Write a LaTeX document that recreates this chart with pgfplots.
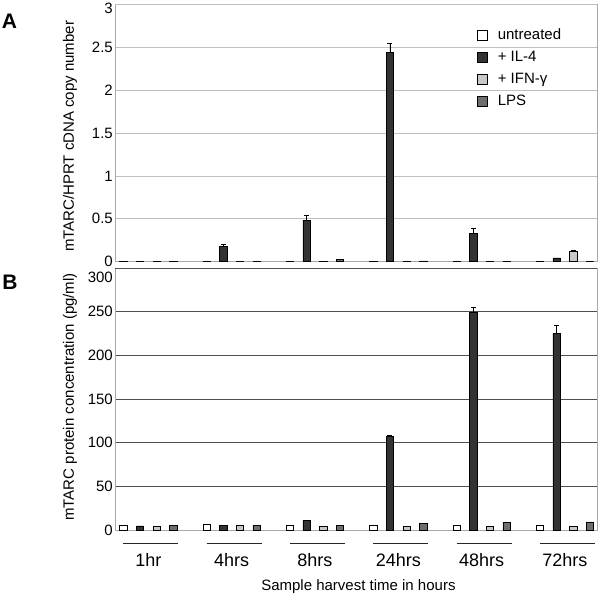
\documentclass[border=0pt]{standalone}
\usepackage{fontspec}
\setmainfont{Liberation Sans}
\usepackage{pgfplots}
\pgfplotsset{compat=1.18}
\usepackage{pgfplotstable}

\definecolor{cUn}{HTML}{FFFFFF}
\definecolor{cIL}{HTML}{333333}
\definecolor{cIF}{HTML}{C8C8C8}
\definecolor{cLP}{HTML}{6E6E6E}
\definecolor{gridA}{HTML}{C0C0C0}
\definecolor{frameA}{HTML}{A8A8A8}
\definecolor{gridB}{HTML}{505050}

% bar positions: group index + offset (untreated -0.3, IL-4 -0.1, IFN +0.1, LPS +0.3)
% panel A: mTARC/HPRT cDNA copy number
\pgfplotstableread{
xu   xi   xf   xl   un    il    ilerr ifn   ifnerr lps
-0.3 -0.1 0.1  0.3  0.005 0.005 0     0.003 0      0.005
0.7  0.9  1.1  1.3  0.005 0.183 0.022 0.003 0      0.005
1.7  1.9  2.1  2.3  0.010 0.486 0.055 0.003 0      0.025
2.7  2.9  3.1  3.3  0.005 2.436 0.110 0.003 0      0.010
3.7  3.9  4.1  4.3  0.005 0.331 0.060 0.003 0      0.003
4.7  4.9  5.1  5.3  0.003 0.045 0     0.125 0.006  0.000
}\tabA

% panel B: mTARC protein concentration (pg/ml)
\pgfplotstableread{
xu   xi   xf   xl   un  il    ilerr ifn lps
-0.3 -0.1 0.1  0.3  5.0 4.6   0     4.5 5.3
0.7  0.9  1.1  1.3  6.5 5.7   0     5.0 5.3
1.7  1.9  2.1  2.3  5.3 10.7  0     4.5 5.3
2.7  2.9  3.1  3.3  5.3 107.0 1.0   4.5 7.2
3.7  3.9  4.1  4.3  5.0 249.6 5.0   4.5 8.8
4.7  4.9  5.1  5.3  5.0 224.8 9.5   4.5 9.2
}\tabB

\pgfplotsset{
  mybar/.style={ybar, bar width=7.5pt, bar shift=0pt, draw=black, line width=0.6pt,
    legend image code/.code={\draw[##1] (0pt,-5pt) rectangle (10pt,5pt);}},
  myerr/.style={error bars/.cd, y dir=plus, y explicit,
    error bar style={black, line width=0.6pt},
    error mark=-,
    error mark options={rotate=90, black, mark size=2.5pt, line width=0.6pt}},
  common/.style={
    scale only axis, anchor=south west, width=482pt,
    xmin=-0.4, xmax=5.385, ymin=0,
    axis line style={frameA, line width=0.8pt},
    ymajorgrids, major tick length=0pt,
    /pgf/number format/assume math mode=true,
    tick label style={font=\fontsize{15}{15}\selectfont},
    yticklabel style={inner sep=0pt, xshift=-2pt},
    label style={font=\fontsize{15}{15}\selectfont},
  },
}

\begin{document}
\begin{tikzpicture}[x=1pt,y=1pt]
\useasboundingbox (0,0) rectangle (600,600);

\begin{axis}[common,
  at={(115pt,338.3pt)}, height=257.3pt,
  ymax=3, ytick={0,0.5,1,1.5,2,2.5}, xtick=\empty,
  extra y ticks={3},
  extra y tick style={yticklabel style={yshift=-3.6pt}},
  grid style={gridA, line width=0.8pt},
  ylabel={mTARC/HPRT cDNA copy number},
  ylabel style={at={([xshift=-45pt]axis description cs:0,0.487)}, anchor=center},
  legend style={at={(axis description cs:0.751,0.908)}, anchor=north west,
    draw=none, fill=none, inner sep=0pt, row sep=8pt,
    font=\fontsize{15}{15}\selectfont,
    nodes={inner sep=0pt, text height=11pt, text depth=3pt},
    /tikz/every odd column/.append style={column sep=10pt}},
  legend cell align=left,
]
\addplot[mybar, fill=cUn] table[x=xu, y=un] {\tabA};
\addlegendentry{untreated}
\addplot[mybar, fill=cIL, myerr] table[x=xi, y=il, y error=ilerr] {\tabA};
\addlegendentry{+ IL-4}
\addplot[mybar, fill=cIF, myerr] table[x=xf, y=ifn, y error=ifnerr] {\tabA};
\addlegendentry{+ IFN-γ}
\addplot[mybar, fill=cLP] table[x=xl, y=lps] {\tabA};
\addlegendentry{LPS}
\end{axis}

\begin{axis}[common,
  at={(115pt,70pt)}, height=262pt,
  ymax=300, ytick={0,50,100,150,200,250},
  extra y ticks={300},
  extra y tick style={yticklabel style={yshift=-9pt}},
  grid style={gridB, line width=0.8pt},
  clip=false,
  xtick={0,1,2,3,4,5},
  xticklabels={1hr,4hrs,8hrs,24hrs,48hrs,72hrs},
  xticklabel style={anchor=base, inner sep=0pt, yshift=-36.7pt, font=\fontsize{18}{18}\selectfont},
  xlabel={Sample harvest time in hours},
  xlabel style={at={(axis description cs:0.505,0)}, anchor=base, yshift=-60pt},
  ylabel={mTARC protein concentration (pg/ml)},
  ylabel style={at={([xshift=-45pt]axis description cs:0,0.508)}, anchor=center},
]
\addplot[mybar, fill=cUn] table[x=xu, y=un] {\tabB};
\addplot[mybar, fill=cIL, myerr] table[x=xi, y=il, y error=ilerr] {\tabB};
\addplot[mybar, fill=cIF] table[x=xf, y=ifn] {\tabB};
\addplot[mybar, fill=cLP] table[x=xl, y=lps] {\tabB};
% group underlines
\addplot[forget plot, sharp plot, no marks, black!85, line width=1pt] coordinates {(-0.30,-15.2) (0.36,-15.2)};
\addplot[forget plot, sharp plot, no marks, black!85, line width=1pt] coordinates {(0.70,-15.2) (1.36,-15.2)};
\addplot[forget plot, sharp plot, no marks, black!85, line width=1pt] coordinates {(1.70,-15.2) (2.36,-15.2)};
\addplot[forget plot, sharp plot, no marks, black!85, line width=1pt] coordinates {(2.70,-15.2) (3.36,-15.2)};
\addplot[forget plot, sharp plot, no marks, black!85, line width=1pt] coordinates {(3.70,-15.2) (4.36,-15.2)};
\addplot[forget plot, sharp plot, no marks, black!85, line width=1pt] coordinates {(4.70,-15.2) (5.36,-15.2)};
\end{axis}

\node[font=\bfseries\fontsize{21}{21}\selectfont] at (9.5,579) {A};
\node[font=\bfseries\fontsize{21}{21}\selectfont] at (10,318) {B};
\end{tikzpicture}
\end{document}
